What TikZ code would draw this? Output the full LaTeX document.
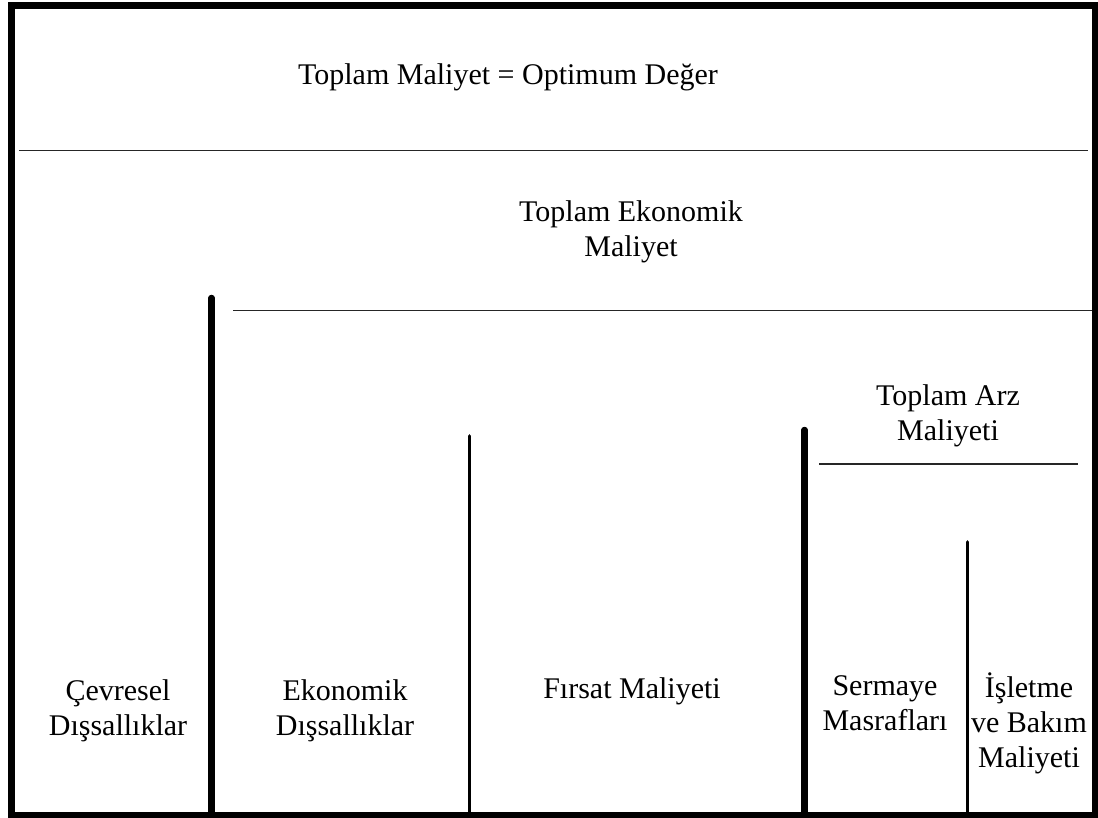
\documentclass[tikz,border=0pt]{standalone}
\usepackage{fontspec}
\setmainfont{Liberation Serif}
\begin{document}
\begin{tikzpicture}[x=1pt,y=-1pt,
  lbl/.style={font=\fontsize{30}{35}\selectfont, align=center, anchor=base, inner sep=0pt, text=black},
  thinrule/.style={line width=1.6pt, black!85},
  thickbar/.style={line width=6.5pt, line cap=round},
  thinbar/.style={line width=3.6pt, line cap=round}]
\useasboundingbox (0,0) rectangle (1098,818);
% frame
\draw[line width=6.8pt] (11.5,5.5) rectangle (1095,815);
% horizontal rules
\coordinate (h1a) at (19,150.5); \coordinate (h1b) at (1088,150.5);
\coordinate (h2a) at (233,310.5); \coordinate (h2b) at (1092,310.5);
\coordinate (h3a) at (819,464); \coordinate (h3b) at (1078,464);
\draw[thinrule] (h1a) -- (h1b);
\draw[thinrule] (h2a) -- (h2b);
\draw[thinrule] (h3a) -- (h3b);
% vertical bars
\coordinate (v1t) at (211.5,298); \coordinate (v1b) at (211.5,812);
\coordinate (v2t) at (469.5,436); \coordinate (v2b) at (469.5,812);
\coordinate (v3t) at (804.5,430); \coordinate (v3b) at (804.5,812);
\coordinate (v4t) at (967.5,542); \coordinate (v4b) at (967.5,812);
\draw[thickbar] (v1t) -- (v1b);
\draw[thinbar] (v2t) -- (v2b);
\draw[thickbar] (v3t) -- (v3b);
\draw[thinbar] (v4t) -- (v4b);
% labels (base anchor = baseline of last line)
\node[lbl] (top) at (508,85) {Toplam Maliyet = Optimum Değer};
\node[lbl] (eko) at (631,257) {Toplam Ekonomik\\Maliyet};
\node[lbl] (arz) at (948,440) {Toplam Arz\\Maliyeti};
\node[lbl] (cev) at (118,735) {Çevresel\\Dışsallıklar};
\node[lbl] (ekd) at (345,735) {Ekonomik\\Dışsallıklar};
\node[lbl] (fir) at (632,698) {Fırsat Maliyeti};
\node[lbl] (ser) at (885,730) {Sermaye\\Masrafları};
\node[lbl] (isl) at (1029,767) {İşletme\\ve Bakım\\Maliyeti};
\end{tikzpicture}
\end{document}
